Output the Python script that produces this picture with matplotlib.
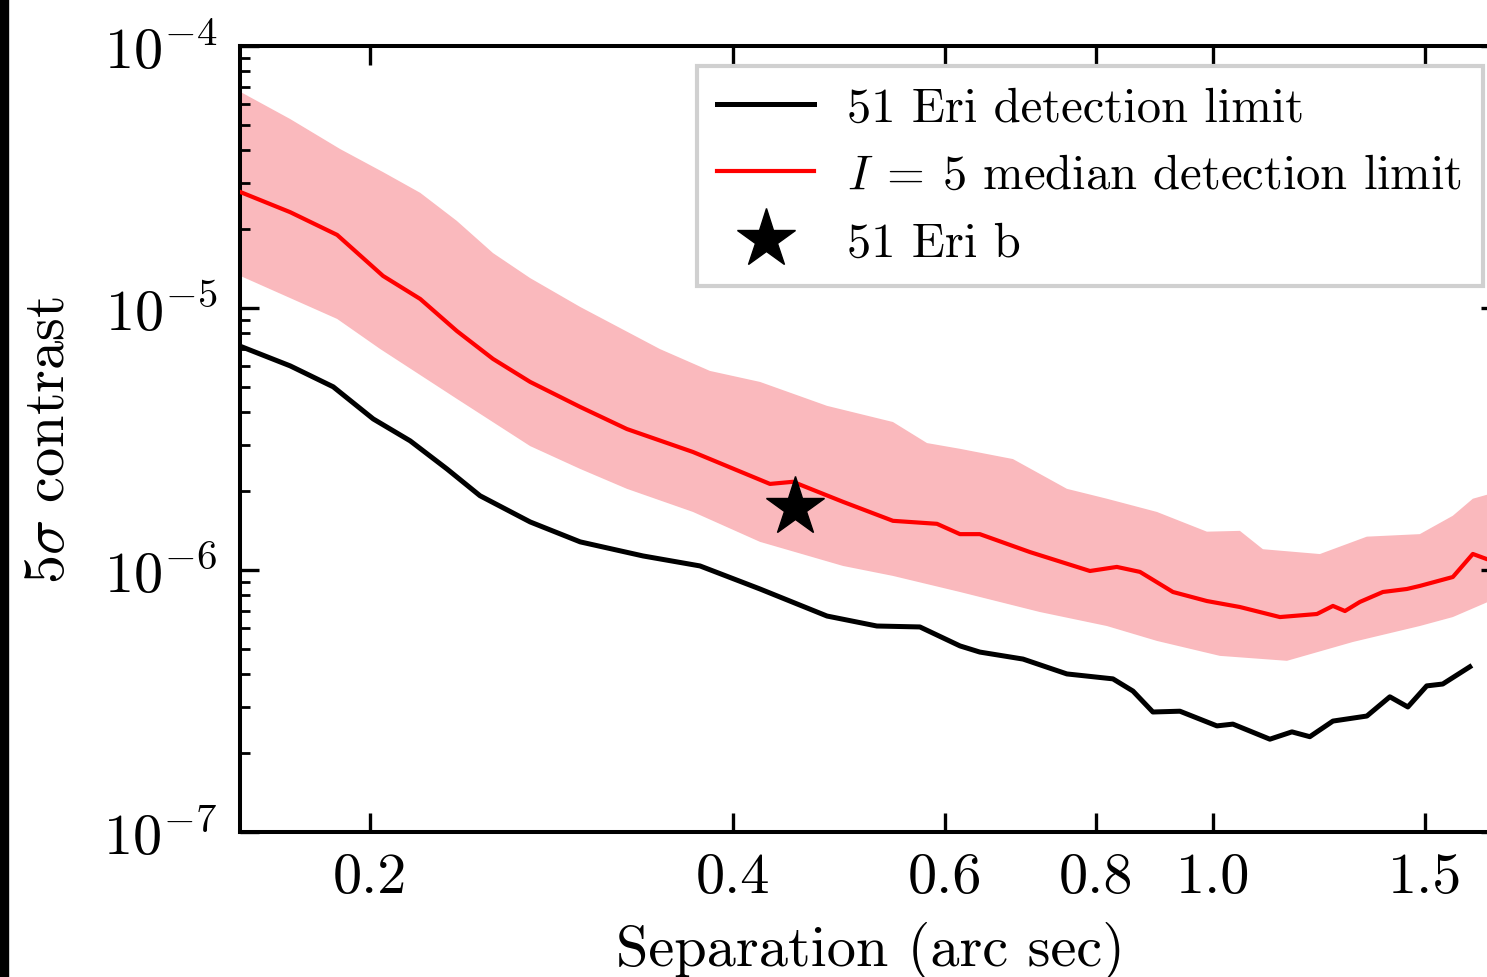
import numpy as np
import matplotlib
matplotlib.use("Agg")
import matplotlib.pyplot as plt
from matplotlib.ticker import FixedLocator, NullLocator, LogLocator, FixedFormatter
from matplotlib.patches import Rectangle

plt.rcParams['font.family'] = 'serif'
plt.rcParams['font.serif'] = ['cmr10', 'DejaVu Serif']
plt.rcParams['mathtext.fontset'] = 'cm'
plt.rcParams['axes.formatter.use_mathtext'] = True
plt.rcParams['axes.unicode_minus'] = False

# ---- data (separation in arcsec, 5-sigma contrast) ----
eri_sep = [0.1566, 0.1717, 0.1864, 0.2012, 0.2159, 0.2316, 0.2467, 0.2715, 0.2987,
           0.3368, 0.3755, 0.4211, 0.4786, 0.5264, 0.5715, 0.6169, 0.6407, 0.6958,
           0.7567, 0.8262, 0.8584, 0.8917, 0.9389, 1.0077, 1.0389, 1.1149, 1.1629,
           1.2033, 1.2576, 1.3418, 1.4020, 1.4510, 1.5042, 1.5510, 1.6333]
eri_con = [7.10e-6, 6.01e-6, 5.00e-6, 3.77e-6, 3.11e-6, 2.43e-6, 1.92e-6, 1.525e-6, 1.28e-6,
           1.131e-6, 1.036e-6, 8.46e-7, 6.67e-7, 6.11e-7, 6.06e-7, 5.13e-7, 4.86e-7, 4.57e-7,
           4.01e-7, 3.84e-7, 3.45e-7, 2.87e-7, 2.89e-7, 2.54e-7, 2.58e-7, 2.26e-7, 2.41e-7,
           2.31e-7, 2.65e-7, 2.77e-7, 3.28e-7, 3.00e-7, 3.61e-7, 3.67e-7, 4.27e-7]

med_sep = [0.1561, 0.1717, 0.1878, 0.2050, 0.2201, 0.2360, 0.2529, 0.2715, 0.2987,
           0.3266, 0.3705, 0.4292, 0.4484, 0.4934, 0.5428, 0.5904, 0.6169, 0.6407,
           0.7052, 0.7907, 0.8324, 0.8700, 0.9265, 0.9886, 1.0529, 1.1365, 1.2197,
           1.2576, 1.2868, 1.3240, 1.3835, 1.4483, 1.4846, 1.5812, 1.6427, 1.6872, 1.73]
med_con = [2.77e-5, 2.32e-5, 1.90e-5, 1.325e-5, 1.082e-5, 8.17e-6, 6.39e-6, 5.22e-6, 4.19e-6,
           3.45e-6, 2.82e-6, 2.13e-6, 2.17e-6, 1.82e-6, 1.54e-6, 1.50e-6, 1.37e-6, 1.37e-6,
           1.17e-6, 9.91e-7, 1.027e-6, 9.83e-7, 8.24e-7, 7.61e-7, 7.22e-7, 6.61e-7, 6.79e-7,
           7.29e-7, 6.97e-7, 7.55e-7, 8.24e-7, 8.46e-7, 8.69e-7, 9.40e-7, 1.151e-6, 1.10e-6, 1.08e-6]

upper_sep = [0.1561, 0.1717, 0.1889, 0.2050, 0.2201, 0.2360, 0.2529, 0.2715, 0.2987, 0.3478,
             0.3827, 0.4211, 0.4786, 0.5428, 0.5793, 0.6169, 0.6826, 0.7567, 0.8167,
             0.8986, 0.9886, 1.0529, 1.1002, 1.2266, 1.3418, 1.4846, 1.5812, 1.6427, 1.73]
upper_con = [6.68e-5, 5.26e-5, 4.04e-5, 3.30e-5, 2.75e-5, 2.15e-5, 1.62e-5, 1.30e-5, 1.009e-5, 6.97e-6,
             5.75e-6, 5.22e-6, 4.23e-6, 3.67e-6, 3.05e-6, 2.90e-6, 2.65e-6, 2.04e-6, 1.87e-6,
             1.665e-6, 1.40e-6, 1.41e-6, 1.20e-6, 1.15e-6, 1.34e-6, 1.37e-6, 1.61e-6, 1.87e-6, 2.00e-6]

lower_sep = [0.1561, 0.1878, 0.2039, 0.2360, 0.2715, 0.2987, 0.3266, 0.3705, 0.4211,
             0.4934, 0.5428, 0.6169, 0.7186, 0.8167, 0.8986, 1.0134, 1.1519, 1.3064,
             1.4846, 1.5812, 1.73]
lower_con = [1.325e-5, 9.08e-6, 6.97e-6, 4.50e-6, 2.97e-6, 2.43e-6, 2.04e-6, 1.665e-6, 1.28e-6,
             1.036e-6, 9.49e-7, 8.24e-7, 6.91e-7, 6.11e-7, 5.36e-7, 4.70e-7, 4.50e-7, 5.31e-7,
             6.11e-7, 6.61e-7, 7.90e-7]

planet_sep = [0.4501]
planet_con = [1.74e-6]

xtick_vals = [0.2, 0.4, 0.6, 0.8, 1.0, 1.5]
xtick_labels = ['0.2', '0.4', '0.6', '0.8', '1.0', '1.5']

fig = plt.figure(figsize=(14.87, 9.78), dpi=100)
ax = fig.add_axes([0.1614, 0.1483, 0.8473, 0.8037])

band_x = np.concatenate([upper_sep, lower_sep[::-1]])
band_y = np.concatenate([upper_con, lower_con[::-1]])
ax.fill(band_x, band_y, color='#fab9bd', lw=0, zorder=1)
ax.plot(eri_sep, eri_con, color='black', lw=3.6, label='51 Eri detection limit', zorder=3)
ax.plot(med_sep, med_con, color='red', lw=3.0, label=r'$I\:=\:5$ median detection limit', zorder=3)
ax.plot(planet_sep, planet_con, ls='none', marker='*', color='black', markersize=44,
        label='51 Eri b', zorder=4)

ax.set_xscale('log')
ax.set_yscale('log')
ax.set_xlim(0.156, 1.73)
ax.set_ylim(1e-7, 1e-4)

ax.xaxis.set_major_locator(FixedLocator(xtick_vals))
ax.xaxis.set_major_formatter(FixedFormatter(xtick_labels))
ax.xaxis.set_minor_locator(NullLocator())
ax.yaxis.set_major_locator(LogLocator(base=10))
ax.yaxis.set_minor_locator(LogLocator(base=10, subs=np.arange(2, 10)))

ax.tick_params(which='both', direction='in', top=True, right=True)
ax.tick_params(which='major', length=14, width=2.4, labelsize=42)
ax.tick_params(which='minor', length=7, width=2.0)
ax.tick_params(axis='x', which='major', pad=14)
ax.tick_params(axis='y', which='major', pad=16)
for s in ax.spines.values():
    s.set_linewidth(2.9)

ax.set_xlabel('Separation (arc sec)', fontsize=42, labelpad=13)
ax.set_ylabel(r'5$\sigma$ contrast', fontsize=42, labelpad=20)

leg = ax.legend(loc='upper right', bbox_to_anchor=(0.9865, 0.9746), borderaxespad=0,
                fontsize=35, fancybox=False, framealpha=1, edgecolor='#d0d0d0',
                handlelength=2.0, handletextpad=0.68, labelspacing=0.48, borderpad=0.42)
leg.get_frame().set_linewidth(3)

fig.patches.append(Rectangle((0, 0), 8 / 1487, 1, transform=fig.transFigure,
                             color='black', zorder=10))

fig.savefig('out.png', dpi=100)
